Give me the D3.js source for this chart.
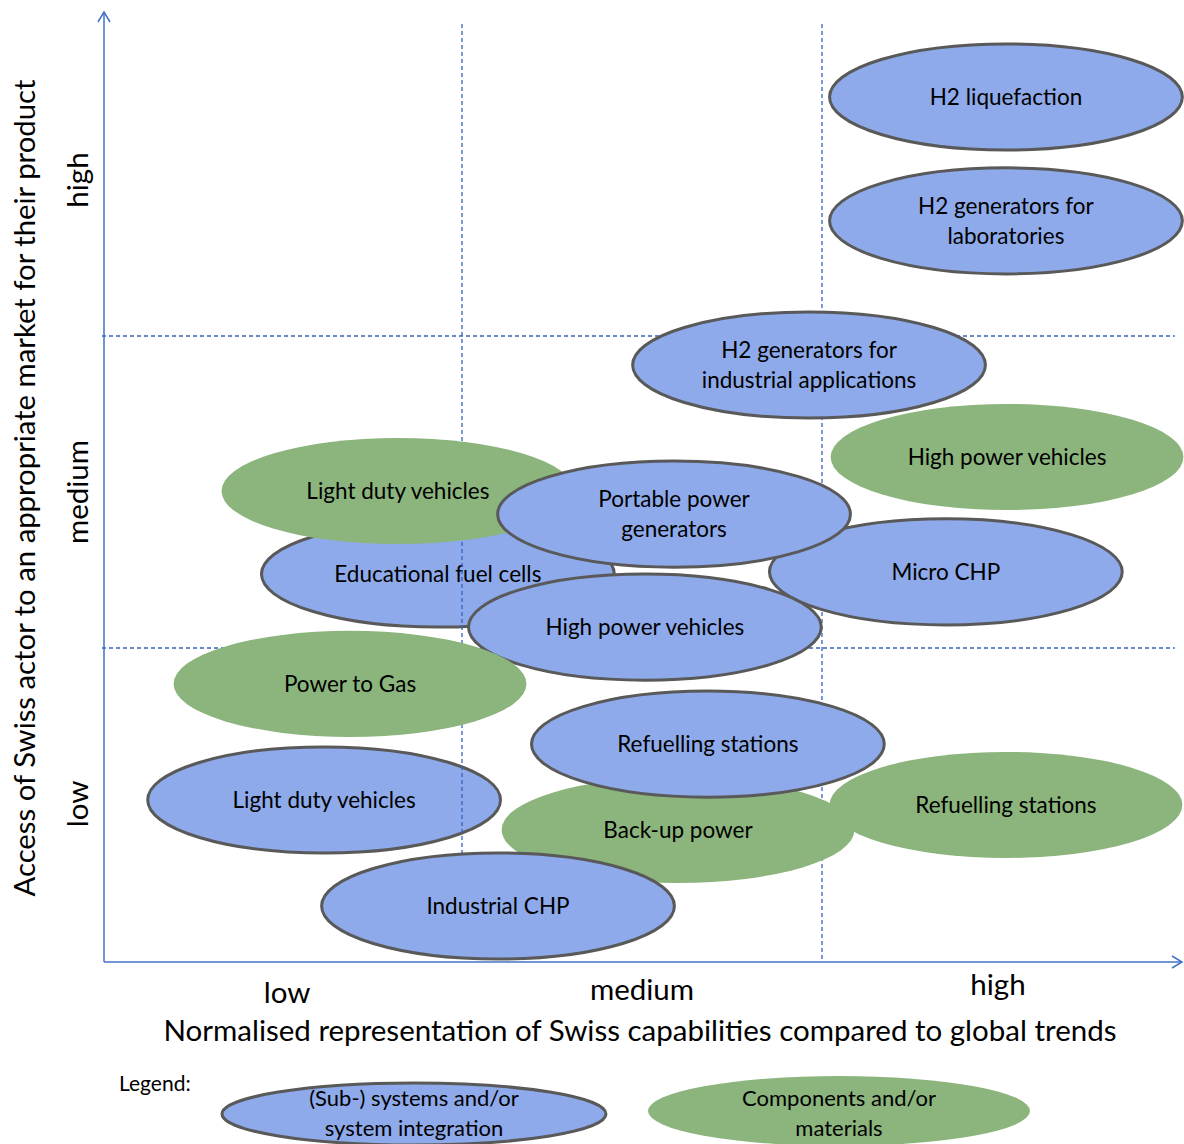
<!DOCTYPE html>
<html>
<head>
<meta charset="utf-8">
<script src="https://cdn.jsdelivr.net/npm/d3@7"></script>
<style>
  body { margin: 0; background: #fff; }
  text { font-family: Lato, "Noto Sans", sans-serif; fill: #000; }
</style>
</head>
<body>
<div id="chart"></div>
<script>
// Category labels on both axes
const levels = ["low", "medium", "high"];

// Ellipse labels, kind, and position in (capability, market access) units
const names = [
  "Educational fuel cells", "Light duty vehicles",
  "H2 liquefaction", "H2 generators for|laboratories", "H2 generators for|industrial applications",
  "High power vehicles", "Light duty vehicles", "Micro CHP", "Portable power|generators",
  "High power vehicles", "Power to Gas", "Back-up power", "Refuelling stations",
  "Refuelling stations", "Industrial CHP"
];
const kinds = [
  "sys", "sys",
  "sys", "sys", "sys",
  "comp", "comp", "sys", "sys",
  "sys", "comp", "comp", "comp",
  "sys", "sys"
];
const capability = [0.933, 0.617, 2.511, 2.511, 1.964, 2.514, 0.822, 2.344, 1.589, 1.508, 0.689, 1.6, 2.511, 1.683, 1.1];
const access     = [1.237, 0.513, 2.766, 2.369, 1.907, 1.612, 1.503, 1.244, 1.429, 1.067, 0.885, 0.417, 0.497, 0.692, 0.173];
// first two sit under the grid lines
const underGrid = 2;

const legendNames = ["(Sub-) systems and/or|system integration", "Components and/or|materials"];
const legendKinds = ["sys", "comp"];

const W = 1184, H = 1144;
const fillFor = { sys: "#8eaaea", comp: "#8bb57c" };

const svg = d3.select("#chart").append("svg")
  .attr("width", W).attr("height", H);

const x = d3.scaleLinear().domain([0, 3]).range([102, 1182]);
const y = d3.scaleLinear().domain([0, 3]).range([960, 24]);
const rxU = 0.49, ryU = 0.17;

const items = names.map((n, i) => ({ name: n, kind: kinds[i], cx: capability[i], cy: access[i] }));

function drawEllipses(g, data) {
  const e = g.selectAll("g.el").data(data).enter().append("g").attr("class", "el");
  e.append("ellipse")
    .attr("cx", d => x(d.cx))
    .attr("cy", d => y(d.cy))
    .attr("rx", d => x(d.cx + rxU) - x(d.cx))
    .attr("ry", d => y(d.cy) - y(d.cy + ryU))
    .attr("fill", d => fillFor[d.kind])
    .attr("stroke", d => d.kind === "sys" ? "#595959" : "none")
    .attr("stroke-width", 3);
  e.each(function(d) {
    const lines = d.name.split("|");
    const t = d3.select(this).append("text")
      .attr("text-anchor", "middle")
      .style("font-size", "22.5px");
    lines.forEach((l, k) => {
      t.append("tspan")
        .attr("x", x(d.cx))
        .attr("y", y(d.cy) + 8 + (k - (lines.length - 1) / 2) * 30)
        .text(l);
    });
  });
}

// Ellipses below the grid
drawEllipses(svg.append("g"), items.slice(0, underGrid));

// Dashed grid lines
const grid = svg.append("g")
  .attr("stroke", "#3461c1").attr("stroke-width", 1.3).attr("stroke-dasharray", "4,3");
[1, 2].forEach(v => {
  grid.append("line").attr("x1", x(v)).attr("x2", x(v)).attr("y1", y(3)).attr("y2", y(0));
  grid.append("line").attr("x1", x(0)).attr("x2", x(2.98)).attr("y1", y(v)).attr("y2", y(v));
});

// Remaining ellipses
drawEllipses(svg.append("g"), items.slice(underGrid));

// Axes with open arrowheads
const ax = svg.append("g").attr("stroke", "#4472c4").attr("stroke-width", 1.5).attr("fill", "none");
const x0 = x(0) + 2, yb = y(0) + 2;
ax.append("line").attr("x1", x0).attr("x2", x0).attr("y1", yb).attr("y2", 12);
ax.append("path").attr("d", `M${x0 - 6},22 L${x0},12 L${x0 + 6},22`);
ax.append("line").attr("x1", x0).attr("x2", 1182).attr("y1", yb).attr("y2", yb);
ax.append("path").attr("d", `M1172,${yb - 6} L1182,${yb} L1172,${yb + 6}`);

// Category labels
const xOff = [0, -3, -8];
svg.selectAll("text.xl").data(levels).enter().append("text")
  .attr("class", "xl")
  .attr("x", (d, i) => x(i + 0.5) + [5, 0, -4][i])
  .attr("y", (d, i) => 1003 + xOff[i])
  .attr("text-anchor", "middle")
  .style("font-size", "29.5px")
  .text(d => d);

svg.selectAll("text.yl").data(levels).enter().append("text")
  .attr("class", "yl")
  .attr("transform", (d, i) => `translate(88,${y(i + 0.5)}) rotate(-90)`)
  .attr("text-anchor", "middle")
  .style("font-size", "29.5px")
  .text(d => d);

// Axis titles
svg.append("text")
  .attr("x", 640).attr("y", 1041)
  .attr("text-anchor", "middle")
  .style("font-size", "29.5px")
  .text("Normalised representation of Swiss capabilities compared to global trends");

svg.append("text")
  .attr("transform", "translate(35,488) rotate(-90)")
  .attr("text-anchor", "middle")
  .style("font-size", "29.3px")
  .text("Access of Swiss actor to an appropriate market for their product");

// Legend
svg.append("text").attr("x", 119).attr("y", 1091).style("font-size", "21px").text("Legend:");
const lg = svg.append("g");
const legendPos = [{ cx: 414, cy: 1114, rx: 192, ry: 31 }, { cx: 839, cy: 1111, rx: 191, ry: 35 }];
legendNames.forEach((n, i) => {
  const p = legendPos[i];
  lg.append("ellipse")
    .attr("cx", p.cx).attr("cy", p.cy).attr("rx", p.rx).attr("ry", p.ry)
    .attr("fill", fillFor[legendKinds[i]])
    .attr("stroke", legendKinds[i] === "sys" ? "#595959" : "none")
    .attr("stroke-width", 3);
  const t = lg.append("text").attr("text-anchor", "middle").style("font-size", "22px");
  n.split("|").forEach((l, k) => {
    t.append("tspan").attr("x", p.cx).attr("y", 1106 + k * 30).text(l);
  });
});
</script>
</body>
</html>
